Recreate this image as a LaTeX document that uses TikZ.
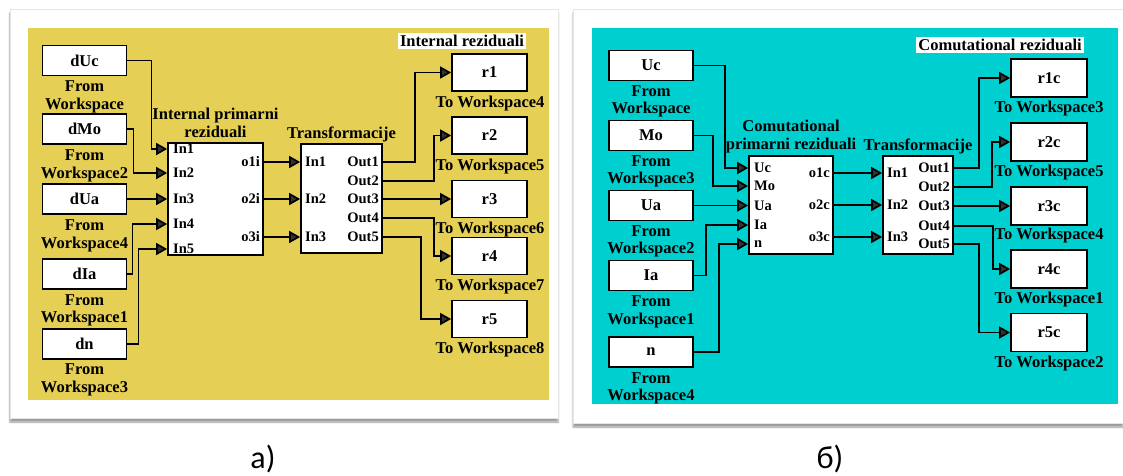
\documentclass[tikz,border=0pt]{standalone}
\usepackage{fontspec}
\setmainfont{Liberation Serif}
\newfontfamily\capfont{Carlito}
\usetikzlibrary{arrows.meta, positioning, shadows.blur}
\definecolor{panelyellow}{RGB}{229,207,84}
\definecolor{panelcyan}{RGB}{0,207,207}

\begin{document}
\begin{tikzpicture}[x=1pt, y=-1pt,
    blk/.style={draw, line width=1.7pt, fill=white, inner sep=0pt, font=\fontsize{16.5}{17}\selectfont\bfseries},
    srcbox/.style={blk, minimum width=84pt, minimum height=30pt},
    snkbox/.style={blk, minimum width=76pt, minimum height=38pt},
    wslab/.style={align=center, inner sep=0pt, font=\fontsize{16.5}{17.5}\selectfont\bfseries},
    port/.style={inner sep=0pt, font=\fontsize{14.5}{15}\selectfont\bfseries},
    wire/.style={line width=1.7pt, -{Triangle[length=11pt,width=12pt]}},
    caplab/.style={font=\capfont\fontsize{32}{36}\selectfont},
    frame/.style={fill=white, draw=black!10, blur shadow={shadow xshift=0pt, shadow yshift=-4pt, shadow blur steps=6, shadow opacity=40}}
]
\useasboundingbox (0,0) rectangle (1123,475);

% ---- panel a) ----
\path[frame] (10,9) rectangle (558,418);
\fill[panelyellow] (28,28) rectangle (549,400);

\node[srcbox] (dUc) at (84.5,60.5) {dUc};
\node[wslab] (dUcWs) at (84.5,97) {From\\Workspace};
\node[srcbox] (dMo) at (84.5,129) {dMo};
\node[wslab] (dMoWs) at (84.5,166) {From\\Workspace2};
\node[srcbox] (dUa) at (84.5,199) {dUa};
\node[wslab] (dUaWs) at (84.5,236) {From\\Workspace4};
\node[srcbox] (dIa) at (84.5,274) {dIa};
\node[wslab] (dIaWs) at (84.5,310.5) {From\\Workspace1};
\node[srcbox] (dn) at (84.5,344) {dn};
\node[wslab] (dnWs) at (84.5,380) {From\\Workspace3};

\node[blk, minimum width=95pt, minimum height=112pt] (aMain) at (215.5,199) {};
\node[wslab] (aMainT) at (215.5,123) {Internal primarni\\reziduali};
\node[port, anchor=west] (aIn1) at (173,149) {In1};
\node[port, anchor=west] (aIn2) at (173,173) {In2};
\node[port, anchor=west] (aIn3) at (173,199) {In3};
\node[port, anchor=west] (aIn4) at (173,224) {In4};
\node[port, anchor=west] (aIn5) at (173,249) {In5};
\node[port, anchor=east] (ao1) at (260,162) {o1i};
\node[port, anchor=east] (ao2) at (260,199) {o2i};
\node[port, anchor=east] (ao3) at (260,237) {o3i};

\node[blk, minimum width=81pt, minimum height=109pt] (aTr) at (341.5,198.5) {};
\node[wslab] (aTrT) at (341.5,134) {Transformacije};
\node[port, anchor=west] (aTi1) at (305,162) {In1};
\node[port, anchor=west] (aTi2) at (305,199) {In2};
\node[port, anchor=west] (aTi3) at (305,237) {In3};
\node[port, anchor=east] (aO1) at (379,162) {Out1};
\node[port, anchor=east] (aO2) at (379,181) {Out2};
\node[port, anchor=east] (aO3) at (379,199) {Out3};
\node[port, anchor=east] (aO4) at (379,218) {Out4};
\node[port, anchor=east] (aO5) at (379,237) {Out5};

\node[wslab, fill=white, inner xsep=2pt, inner ysep=2pt] (aRes) at (462,41) {Internal reziduali};
\node[snkbox, minimum width=75pt, minimum height=37pt] (r1) at (489.5,72.5) {r1};
\node[wslab] (r1Ws) at (490,104) {To Workspace4};
\node[snkbox, minimum width=75pt, minimum height=37pt] (r2) at (489.5,135.5) {r2};
\node[wslab] (r2Ws) at (490,167) {To Workspace5};
\node[snkbox, minimum width=75pt, minimum height=37pt] (r3) at (489.5,199) {r3};
\node[wslab] (r3Ws) at (490,230) {To Workspace6};
\node[snkbox, minimum width=75pt, minimum height=37pt] (r4) at (489.5,256) {r4};
\node[wslab] (r4Ws) at (490,287) {To Workspace7};
\node[snkbox, minimum width=75pt, minimum height=37pt] (r5) at (489.5,319) {r5};
\node[wslab] (r5Ws) at (490,350) {To Workspace8};

\draw[wire] (dUc.east) -- ++(24,0) |- (aMain.west |- aIn1);
\draw[wire] (dMo.east) -- ++(6,0) |- (aMain.west |- aIn2);
\draw[wire] (dUa.east) -- (aMain.west |- dUa.east);
\draw[wire] (dIa.east) -- ++(5,0) |- (aMain.west |- aIn4);
\draw[wire] (dn.east) -- ++(11,0) |- (aMain.west |- aIn5);
\draw[wire] (aMain.east |- ao1) -- (aTr.west |- ao1);
\draw[wire] (aMain.east |- ao2) -- (aTr.west |- ao2);
\draw[wire] (aMain.east |- ao3) -- (aTr.west |- ao3);
\draw[wire] (aTr.east |- aO1) -- ++(32,0) |- (r1.west);
\draw[wire] (aTr.east |- aO2) -- ++(51,0) |- (r2.west);
\draw[wire] (aTr.east |- aO3) -- (r3.west |- aO3);
\draw[wire] (aTr.east |- aO4) -- ++(51,0) |- (r4.west);
\draw[wire] (aTr.east |- aO5) -- ++(38,0) |- (r5.west);

\node[caplab] (capA) at (263,459) {a)};

% ---- panel b) ----
\path[frame] (573,9) rectangle (1123,423);
\fill[panelcyan] (592,28) rectangle (1118,404);

\node[srcbox] (Uc) at (651,65.5) {Uc};
\node[wslab] (UcWs) at (651,101.5) {From\\Workspace};
\node[srcbox] (Mo) at (651,135.5) {Mo};
\node[wslab] (MoWs) at (651,171.5) {From\\Workspace3};
\node[srcbox] (Ua) at (651,205.5) {Ua};
\node[wslab] (UaWs) at (651,241.5) {From\\Workspace2};
\node[srcbox] (Ia) at (651,275.5) {Ia};
\node[wslab] (IaWs) at (651,312) {From\\Workspace1};
\node[srcbox] (n) at (651,352) {n};
\node[wslab] (nWs) at (651,388.5) {From\\Workspace4};

\node[blk, minimum width=84pt, minimum height=98pt] (bMain) at (791,205) {};
\node[wslab] (bMainT) at (791,136.5) {Comutational\\primarni reziduali};
\node[port, anchor=west] (bIn1) at (754,168) {Uc};
\node[port, anchor=west] (bIn2) at (754,186) {Mo};
\node[port, anchor=west] (bIn3) at (754,205.5) {Ua};
\node[port, anchor=west] (bIn4) at (754,225) {Ia};
\node[port, anchor=west] (bIn5) at (754,244) {n};
\node[port, anchor=east] (bo1) at (830,173) {o1c};
\node[port, anchor=east] (bo2) at (830,205) {o2c};
\node[port, anchor=east] (bo3) at (830,237) {o3c};

\node[blk, minimum width=70pt, minimum height=98pt] (bTr) at (918,205) {};
\node[wslab] (bTrT) at (918,146) {Transformacije};
\node[port, anchor=west] (bTi1) at (887,173) {In1};
\node[port, anchor=west] (bTi2) at (887,205) {In2};
\node[port, anchor=west] (bTi3) at (887,237) {In3};
\node[port, anchor=east] (bO1) at (950,168) {Out1};
\node[port, anchor=east] (bO2) at (950,187) {Out2};
\node[port, anchor=east] (bO3) at (950,206) {Out3};
\node[port, anchor=east] (bO4) at (950,226) {Out4};
\node[port, anchor=east] (bO5) at (950,244) {Out5};

\node[wslab, fill=white, inner xsep=2pt, inner ysep=2pt] (bRes) at (1000,45) {Comutational reziduali};
\node[snkbox] (r1c) at (1049,78) {r1c};
\node[wslab] (r1cWs) at (1049,109) {To Workspace3};
\node[snkbox] (r2c) at (1049,142) {r2c};
\node[wslab] (r2cWs) at (1049,173) {To Workspace5};
\node[snkbox] (r3c) at (1049,206) {r3c};
\node[wslab] (r3cWs) at (1049,236) {To Workspace4};
\node[snkbox] (r4c) at (1049,269) {r4c};
\node[wslab] (r4cWs) at (1049,300) {To Workspace1};
\node[snkbox] (r5c) at (1049,332.5) {r5c};
\node[wslab] (r5cWs) at (1049,364) {To Workspace2};

\draw[wire] (Uc.east) -- ++(31,0) |- (bMain.west |- bIn1);
\draw[wire] (Mo.east) -- ++(19,0) |- (bMain.west |- bIn2);
\draw[wire] (Ua.east) -- (bMain.west |- Ua.east);
\draw[wire] (Ia.east) -- ++(12,0) |- (bMain.west |- bIn4);
\draw[wire] (n.east) -- ++(25,0) |- (bMain.west |- bIn5);
\draw[wire] (bMain.east |- bo1) -- (bTr.west |- bo1);
\draw[wire] (bMain.east |- bo2) -- (bTr.west |- bo2);
\draw[wire] (bMain.east |- bo3) -- (bTr.west |- bo3);
\draw[wire] (bTr.east |- bO1) -- ++(25,0) |- (r1c.west);
\draw[wire] (bTr.east |- bO2) -- ++(38,0) |- (r2c.west);
\draw[wire] (bTr.east |- bO3) -- (r3c.west |- bO3);
\draw[wire] (bTr.east |- bO4) -- ++(39,0) |- (r4c.west);
\draw[wire] (bTr.east |- bO5) -- ++(25,0) |- (r5c.west);

\node[caplab] (capB) at (830,459) {б)};
\end{tikzpicture}
\end{document}
